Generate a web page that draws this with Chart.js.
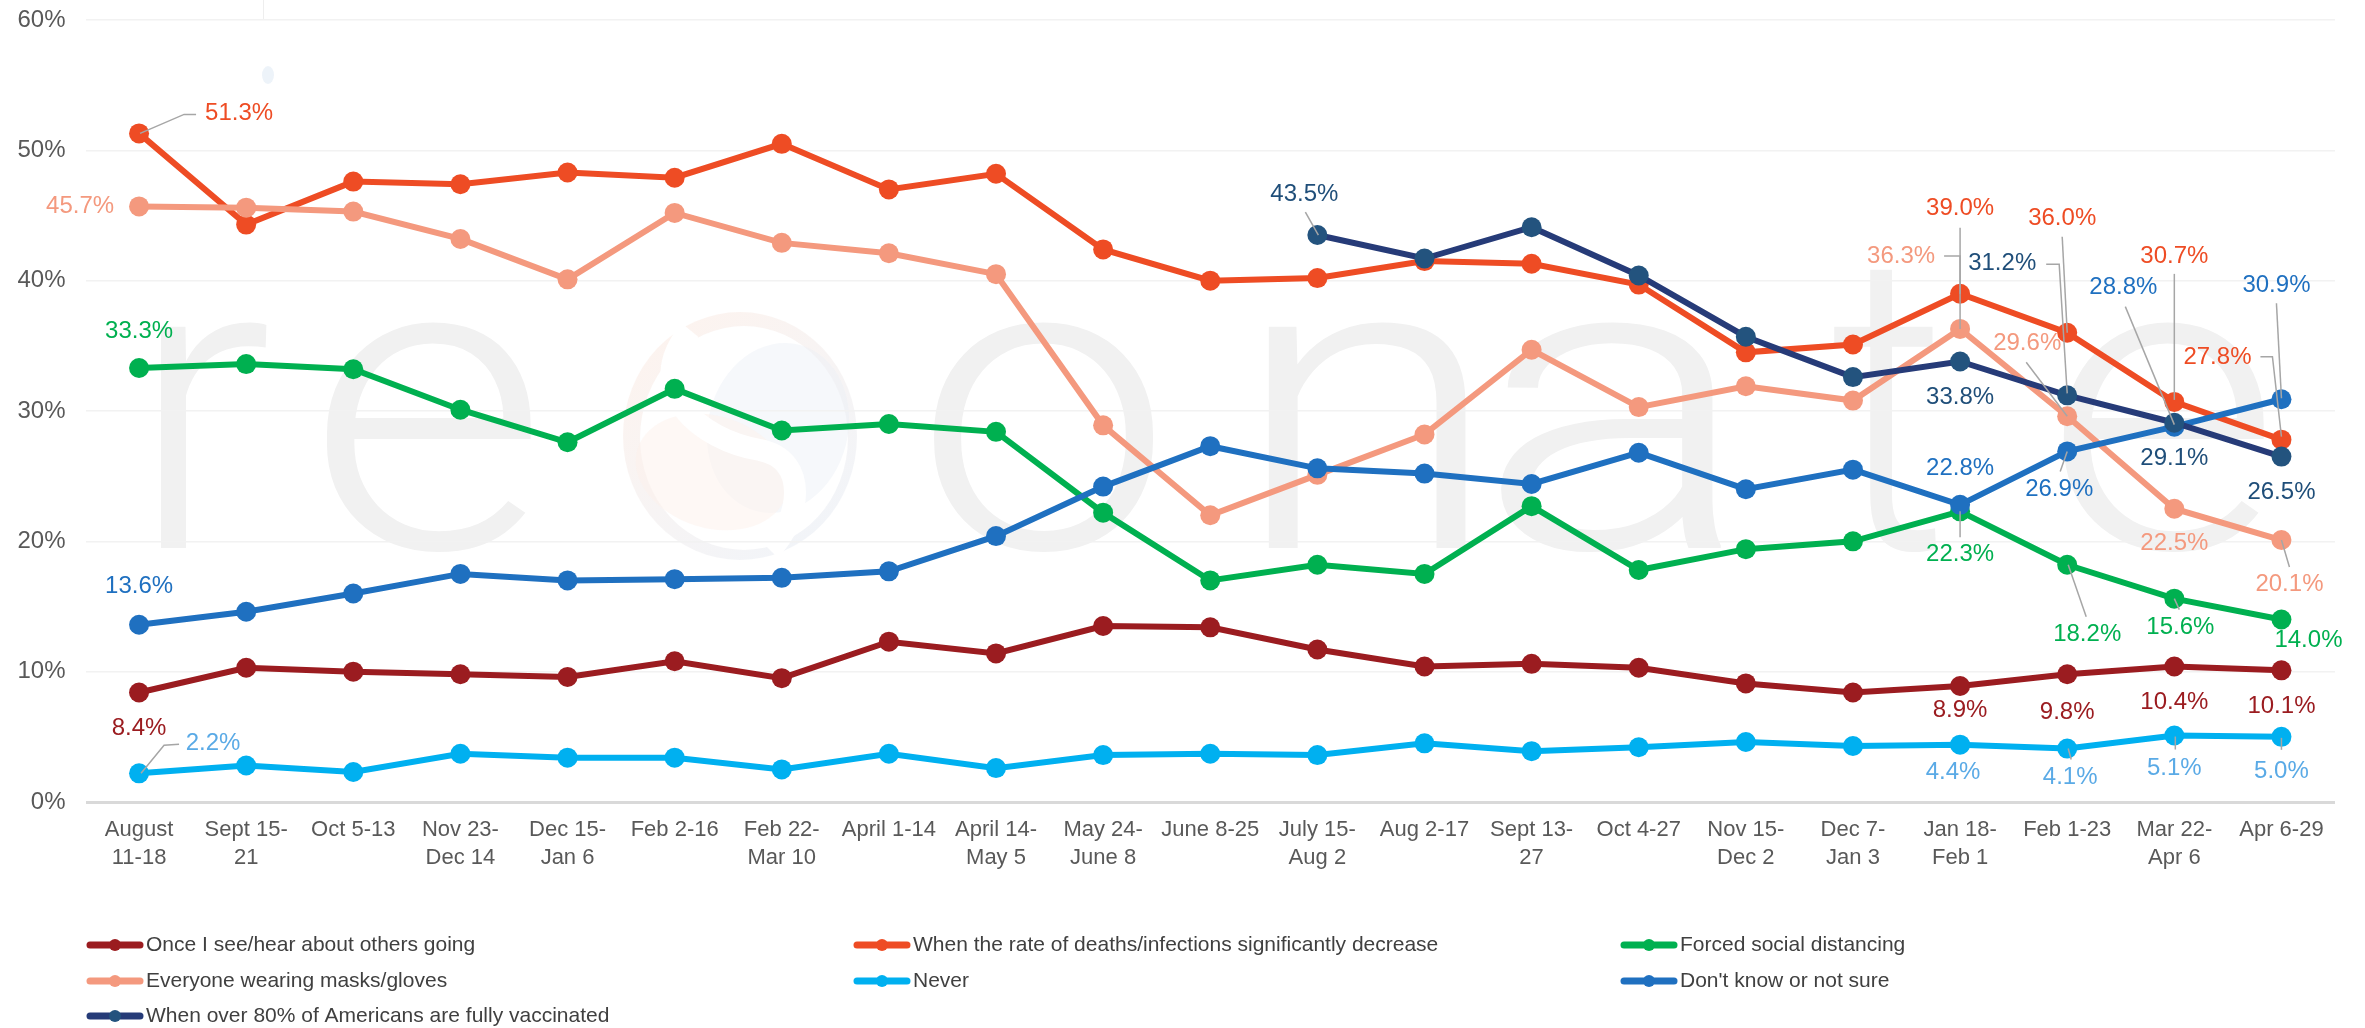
<!DOCTYPE html>
<html>
<head>
<meta charset="utf-8">
<script src="https://cdn.jsdelivr.net/npm/chart.js@4.4.1/dist/chart.umd.min.js"></script>
<style>
    html, body { margin: 0; padding: 0; background: #fff; }
    #wrap { width: 2365px; height: 1028px; }
</style>
</head>
<body>
<div id="wrap"><canvas id="chart" width="2365" height="1028"></canvas></div>
<script>
const periods = [
    ["August", "11-18"], ["Sept 15-", "21"], "Oct 5-13", ["Nov 23-", "Dec 14"], ["Dec 15-", "Jan 6"],
    "Feb 2-16", ["Feb 22-", "Mar 10"], "April 1-14", ["April 14-", "May 5"], ["May 24-", "June 8"],
    "June 8-25", ["July 15-", "Aug 2"], "Aug 2-17", ["Sept 13-", "27"], "Oct 4-27", ["Nov 15-", "Dec 2"],
    ["Dec 7-", "Jan 3"], ["Jan 18-", "Feb 1"], "Feb 1-23", ["Mar 22-", "Apr 6"], "Apr 6-29"
];
const yTicks = [0, 10, 20, 30, 40, 50, 60];

const onceOthers  = [8.4, 10.3, 10.0, 9.8, 9.6, 10.8, 9.5, 12.3, 11.4, 13.5, 13.4, 11.7, 10.4, 10.6, 10.3, 9.1, 8.4, 8.9, 9.8, 10.4, 10.1];
const ratesDrop   = [51.3, 44.3, 47.6, 47.4, 48.3, 47.9, 50.5, 47.0, 48.2, 42.4, 40.0, 40.2, 41.5, 41.3, 39.7, 34.5, 35.1, 39.0, 36.0, 30.7, 27.8];
const distancing  = [33.3, 33.6, 33.2, 30.1, 27.6, 31.7, 28.5, 29.0, 28.4, 22.2, 17.0, 18.2, 17.5, 22.7, 17.8, 19.4, 20.0, 22.3, 18.2, 15.6, 14.0];
const masksGloves = [45.7, 45.6, 45.3, 43.2, 40.1, 45.2, 42.9, 42.1, 40.5, 28.9, 22.0, 25.1, 28.2, 34.7, 30.3, 31.9, 30.8, 36.3, 29.6, 22.5, 20.1];
const never       = [2.2, 2.8, 2.3, 3.7, 3.4, 3.4, 2.5, 3.7, 2.6, 3.6, 3.7, 3.6, 4.5, 3.9, 4.2, 4.6, 4.3, 4.4, 4.1, 5.1, 5.0];
const notSure     = [13.6, 14.6, 16.0, 17.5, 17.0, 17.1, 17.2, 17.7, 20.4, 24.2, 27.3, 25.6, 25.2, 24.4, 26.8, 24.0, 25.5, 22.8, 26.9, 28.8, 30.9];
const vaccinated  = [null, null, null, null, null, null, null, null, null, null, null, 43.5, 41.7, 44.1, 40.4, 35.7, 32.6, 33.8, 31.2, 29.1, 26.5];

const seriesNames = [
    "Once I see/hear about others going",
    "When the rate of deaths/infections significantly decrease",
    "Forced social distancing",
    "Everyone wearing masks/gloves",
    "Never",
    "Don't know or not sure",
    "When over 80% of Americans are fully vaccinated"
];
const seriesData = [onceOthers, ratesDrop, distancing, masksGloves, never, notSure, vaccinated];
const lineColors  = ['#9b1c20', '#ee4c24', '#00b050', '#f4997e', '#00b0f0', '#1f70c0', '#263b78'];
const pointColors = ['#9b1c20', '#ee4c24', '#00b050', '#f4997e', '#00b0f0', '#1f70c0', '#23537e'];
const noteColors  = ['#9b1c20', '#ee4c24', '#00b050', '#f4997e', '#5aaae6', '#1f70c0', '#1f4e79'];

// labelled points: series, index, label offset from the point, leader line (offsets from the point)
const pointNotes = [
    { s: 1, i: 0,  dx: 100, dy: -20, lead: [[1, 0], [45, -19], [57, -19]] },
    { s: 3, i: 0,  dx: -59, dy: 0 },
    { s: 2, i: 0,  dx: 0,   dy: -37 },
    { s: 5, i: 0,  dx: 0,   dy: -38 },
    { s: 0, i: 0,  dx: 0,   dy: 36 },
    { s: 4, i: 0,  dx: 74,  dy: -30, lead: [[2, 0], [25, -28], [40, -29]] },
    { s: 6, i: 11, dx: -13, dy: -41, lead: [[-12, -23], [1, 0]] },
    { s: 1, i: 17, dx: 0,   dy: -85, lead: [[0, -66], [0, 0]] },
    { s: 3, i: 17, dx: -59, dy: -73, lead: [[-16, -73], [0, -73], [0, 0]] },
    { s: 6, i: 18, dx: -65, dy: -132, lead: [[-21, -131], [-8, -131], [0, -2]] },
    { s: 1, i: 18, dx: -5,  dy: -114, lead: [[-5, -96], [0, 0]] },
    { s: 3, i: 18, dx: -40, dy: -73, lead: [[-41, -54], [0, 0]] },
    { s: 5, i: 19, dx: -51, dy: -139, lead: [[-49, -120], [0, -2]] },
    { s: 1, i: 19, dx: 0,   dy: -146, lead: [[0, -128], [0, -2]] },
    { s: 5, i: 20, dx: -5,  dy: -114, lead: [[-5, -96], [0, -1]] },
    { s: 1, i: 20, dx: -64, dy: -82, lead: [[-21, -83], [-9, -83], [0, -3]] },
    { s: 6, i: 17, dx: 0,   dy: 36 },
    { s: 6, i: 19, dx: 0,   dy: 36 },
    { s: 6, i: 20, dx: 0,   dy: 36 },
    { s: 5, i: 17, dx: 0,   dy: -36 },
    { s: 5, i: 18, dx: -8,  dy: 38, lead: [[0, 0], [-7, 20]] },
    { s: 2, i: 17, dx: 0,   dy: 43, lead: [[0, 0], [0, 26]] },
    { s: 3, i: 19, dx: 0,   dy: 35 },
    { s: 3, i: 20, dx: 8,   dy: 44, lead: [[0, 0], [8, 27]] },
    { s: 2, i: 18, dx: 20,  dy: 70, lead: [[1, 0], [19, 52]] },
    { s: 2, i: 19, dx: 6,   dy: 29, lead: [[0, 0], [5, 11]] },
    { s: 2, i: 20, dx: 27,  dy: 21 },
    { s: 0, i: 17, dx: 0,   dy: 24 },
    { s: 0, i: 18, dx: 0,   dy: 38 },
    { s: 0, i: 19, dx: 0,   dy: 36 },
    { s: 0, i: 20, dx: 0,   dy: 36 },
    { s: 4, i: 17, dx: -7,  dy: 28 },
    { s: 4, i: 18, dx: 3,   dy: 29, lead: [[1, 0], [4, 11]] },
    { s: 4, i: 19, dx: 0,   dy: 33, lead: [[1, 1], [1, 14]] },
    { s: 4, i: 20, dx: 0,   dy: 35, lead: [[0, 1], [0, 13]] }
];

const FONT = '"Liberation Sans", Arial, sans-serif';
const legendCols = [87, 854, 1621];
const legendRows = [945, 981, 1016];

function drawWatermark(ctx) {
    ctx.save();
    ctx.fillStyle = '#f1f1f1';
    // size the font so the x-height spans the mark's height
    ctx.font = '300 100px Roboto';
    const xh = ctx.measureText('x').actualBoundingBoxAscent;
    ctx.font = '300 ' + Math.round(100 * 226 / xh) + 'px Roboto';
    const glyphs = [['r', 155, 269], ['e', 321, 533], ['o', 928, 1160], ['n', 1262, 1470],
                    ['a', 1500, 1727], ['t', 1830, 1940], ['e', 2058, 2266]];
    glyphs.forEach(([ch, x0, x1]) => {
        const m = ctx.measureText(ch);
        const w = m.actualBoundingBoxLeft + m.actualBoundingBoxRight;
        ctx.save();
        ctx.translate(x0, 548);
        ctx.scale((x1 - x0) / w, 1);
        ctx.fillText(ch, m.actualBoundingBoxLeft, 0);
        ctx.restore();
    });

    // faint logo in place of the "s"
    const ring = ctx.createLinearGradient(640, 320, 840, 560);
    ring.addColorStop(0, 'rgba(252, 232, 222, 0.5)');
    ring.addColorStop(1, 'rgba(226, 234, 244, 0.5)');
    ctx.beginPath();
    ctx.ellipse(740, 436, 117, 124, 0, 0, Math.PI * 2);
    ctx.fillStyle = ring;
    ctx.fill();
    ctx.beginPath();
    ctx.ellipse(744, 438, 104, 112, 0, 0, Math.PI * 2);
    ctx.fillStyle = '#ffffff';
    ctx.fill();
    ctx.beginPath();
    ctx.ellipse(778, 428, 70, 86, 0.25, 0, Math.PI * 2);
    ctx.fillStyle = 'rgba(234, 240, 247, 0.45)';
    ctx.fill();
    ctx.beginPath();
    ctx.ellipse(712, 472, 78, 56, 0.3, 0, Math.PI * 2);
    ctx.fillStyle = 'rgba(253, 242, 236, 0.5)';
    ctx.fill();
    // white swirl between the two halves
    ctx.strokeStyle = '#ffffff';
    ctx.lineWidth = 22;
    ctx.beginPath();
    ctx.moveTo(690, 330);
    ctx.bezierCurveTo(640, 390, 700, 440, 760, 450);
    ctx.bezierCurveTo(810, 460, 800, 520, 770, 550);
    ctx.stroke();

    // small marks at the top
    ctx.fillStyle = 'rgba(225, 235, 245, 0.6)';
    ctx.beginPath(); ctx.ellipse(268, 75, 6, 9, 0, 0, Math.PI * 2); ctx.fill();
    ctx.strokeStyle = '#eeeeee'; ctx.lineWidth = 1;
    ctx.beginPath(); ctx.moveTo(263.5, 0); ctx.lineTo(263.5, 20); ctx.stroke();
    ctx.restore();
}

const backdrop = {
    id: 'backdrop',
    beforeDraw(chart) { drawWatermark(chart.ctx); }
};

const notes = {
    id: 'notes',
    afterDatasetsDraw(chart) {
        const ctx = chart.ctx;
        ctx.save();
        ctx.strokeStyle = '#a6a6a6';
        ctx.lineWidth = 1.5;
        pointNotes.forEach(n => {
            if (!n.lead) return;
            const p = chart.getDatasetMeta(n.s).data[n.i];
            ctx.beginPath();
            n.lead.forEach(([lx, ly], k) => k ? ctx.lineTo(p.x + lx, p.y + ly) : ctx.moveTo(p.x + lx, p.y + ly));
            ctx.stroke();
        });
        ctx.font = '24px ' + FONT;
        ctx.textAlign = 'center';
        ctx.textBaseline = 'middle';
        pointNotes.forEach(n => {
            const p = chart.getDatasetMeta(n.s).data[n.i];
            const v = seriesData[n.s][n.i];
            ctx.fillStyle = noteColors[n.s];
            ctx.fillText(v.toFixed(1) + '%', p.x + n.dx, p.y + n.dy);
        });
        ctx.restore();
    }
};

const legendBox = {
    id: 'legendBox',
    afterDraw(chart) {
        const ctx = chart.ctx;
        ctx.save();
        ctx.font = '21px ' + FONT;
        ctx.textBaseline = 'middle';
        seriesNames.forEach((name, k) => {
            const x = legendCols[k % 3], y = legendRows[Math.floor(k / 3)];
            ctx.strokeStyle = lineColors[k];
            ctx.lineWidth = 7;
            ctx.lineCap = 'round';
            ctx.beginPath(); ctx.moveTo(x + 3, y); ctx.lineTo(x + 53, y); ctx.stroke();
            ctx.fillStyle = pointColors[k];
            ctx.beginPath(); ctx.arc(x + 28, y, 6, 0, Math.PI * 2); ctx.fill();
            ctx.fillStyle = '#404040';
            ctx.fillText(name, x + 59, y);
        });
        ctx.restore();
    }
};

function buildDatasets() {
    return seriesData.map((vals, k) => ({
        label: seriesNames[k],
        data: vals,
        borderColor: lineColors[k],
        backgroundColor: pointColors[k],
        pointBackgroundColor: pointColors[k],
        pointBorderWidth: 0,
        pointRadius: 10,
        borderWidth: 6,
        tension: 0,
        fill: false,
        spanGaps: false,
        order: -k
    }));
}

new Chart(document.getElementById('chart').getContext('2d'), {
    type: 'line',
    data: { labels: periods, datasets: buildDatasets() },
    options: {
        responsive: false,
        animation: false,
        layout: { padding: { top: 20, right: 30, bottom: 126, left: 0 } },
        plugins: { legend: { display: false }, tooltip: { enabled: false } },
        scales: {
            x: {
                offset: true,
                grid: { display: false, drawTicks: false },
                border: { display: false },
                ticks: {
                    autoSkip: false, maxRotation: 0, padding: 14,
                    color: '#595959', font: { family: FONT, size: 22, lineHeight: 1.27 }
                },
                afterFit: s => { s.height = 100; s.paddingLeft = 0; s.paddingRight = 0; }
            },
            y: {
                min: yTicks[0], max: yTicks[yTicks.length - 1],
                afterBuildTicks: s => { s.ticks = yTicks.map(v => ({ value: v })); },
                grid: {
                    drawTicks: false,
                    color: c => c.tick.value === 0 ? '#d9d9d9' : '#f2f2f2',
                    lineWidth: c => c.tick.value === 0 ? 3 : 1.5
                },
                border: { display: false },
                ticks: {
                    padding: 20, color: '#595959',
                    font: { family: FONT, size: 24 },
                    callback: v => v + '%'
                },
                afterFit: s => { s.width = 85.5; s.paddingTop = 0; s.paddingBottom = 0; }
            }
        }
    },
    plugins: [backdrop, notes, legendBox]
});
</script>
</body>
</html>
